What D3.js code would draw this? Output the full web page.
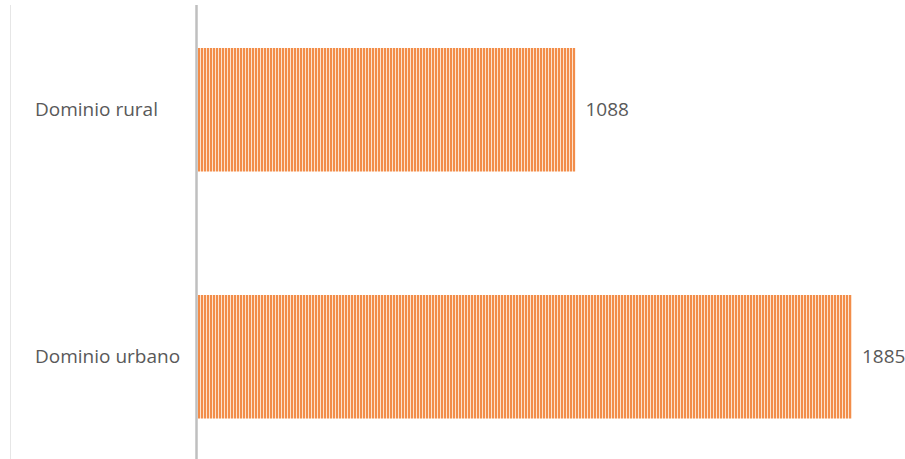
<!DOCTYPE html>
<html>
<head>
<meta charset="utf-8">
<script src="https://cdn.jsdelivr.net/npm/d3@7"></script>
<style>
  body { margin: 0; background: #fff; }
  text { font-family: "Open Sans", "Noto Sans", sans-serif; }
</style>
</head>
<body>
<div id="chart"></div>
<script>
// Data
const categories = ['Dominio rural', 'Dominio urbano']
const values = [1088, 1885]

// Dimensions
let dimensions = {
  width: 905,
  height: 459,
  left: 198,
  top: 5,
}

const svg = d3.select('#chart')
  .append('svg')
  .attr('width', dimensions.width)
  .attr('height', dimensions.height)

// Striped fill
const pattern = svg.append('defs')
  .append('pattern')
  .attr('id', 'stripes')
  .attr('patternUnits', 'userSpaceOnUse')
  .attr('width', 3)
  .attr('height', 10)

pattern.append('rect')
  .attr('width', 3)
  .attr('height', 10)
  .attr('fill', '#fde2cd')

pattern.append('rect')
  .attr('width', 2)
  .attr('height', 10)
  .attr('fill', '#f28d4a')

// Scales
const xScale = d3.scaleLinear()
  .domain([0, 1885])
  .range([dimensions.left, 852])

const yScale = d3.scaleBand()
  .domain(categories)
  .range([6, 460.5])
  .paddingInner(0.5)
  .paddingOuter(0.17)

// faint frame line on the left
svg.append('line')
  .attr('x1', 10.5).attr('x2', 10.5)
  .attr('y1', 5).attr('y2', dimensions.height)
  .attr('stroke', '#e6e6e6')
  .attr('stroke-width', 1)

// Bars
svg.selectAll('rect.bar')
  .data(values)
  .join('rect')
  .classed('bar', true)
  .attr('x', xScale(0))
  .attr('y', (d, i) => yScale(categories[i]))
  .attr('width', d => xScale(d) - xScale(0))
  .attr('height', yScale.bandwidth())
  .attr('fill', 'url(#stripes)')

// Value labels
svg.selectAll('text.value')
  .data(values)
  .join('text')
  .classed('value', true)
  .attr('x', d => xScale(d) + 10)
  .attr('y', (d, i) => yScale(categories[i]) + yScale.bandwidth() / 2)
  .attr('dy', '0.35em')
  .attr('fill', '#595959')
  .style('font-size', '19px')
  .text(d => d)

// Category axis
const yAxis = d3.axisLeft(yScale)
  .tickSize(0)
  .tickPadding(14)

const yAxisGroup = svg.append('g')
  .attr('transform', `translate(${dimensions.left - 1}, 0)`)
  .call(yAxis)

yAxisGroup.select('.domain').remove()
yAxisGroup.selectAll('text')
  .attr('x', null)
  .attr('text-anchor', 'start')
  .attr('transform', `translate(${35 - dimensions.left + 1}, 0)`)
  .attr('fill', '#595959')
  .style('font-size', '19px')

svg.append('line')
  .attr('x1', dimensions.left - 1.5).attr('x2', dimensions.left - 1.5)
  .attr('y1', 5).attr('y2', dimensions.height)
  .attr('stroke', '#bfbfbf')
  .attr('stroke-width', 2.5)
</script>
</body>
</html>
